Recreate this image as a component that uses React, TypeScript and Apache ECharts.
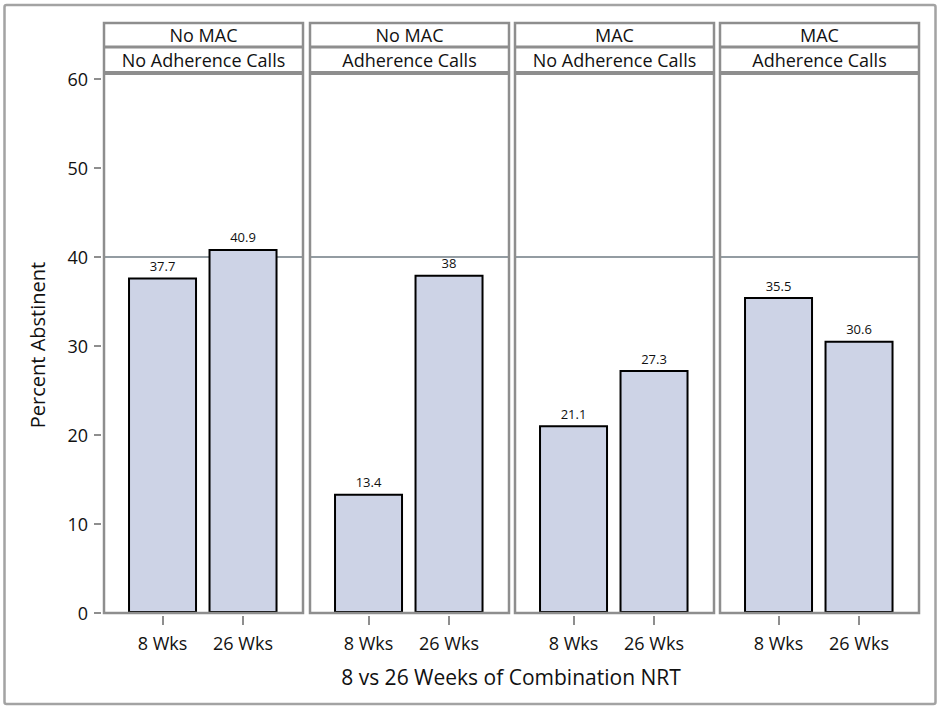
import React, { useEffect, useRef } from "react";
import * as echarts from "echarts";

// ---- data ----
const panelRow1 = ["No MAC", "No MAC", "MAC", "MAC"];
const panelRow2 = ["No Adherence Calls", "Adherence Calls", "No Adherence Calls", "Adherence Calls"];
const durations = ["8 Wks", "26 Wks"];
const pct8Wks = [37.7, 13.4, 21.1, 35.5];
const pct26Wks = [40.9, 38, 27.3, 30.6];
const yTickValues = [0, 10, 20, 30, 40, 50, 60];
const referenceValue = 40;
const xTitle = "8 vs 26 Weeks of Combination NRT";
const yTitle = "Percent Abstinent";

// ---- layout / style ----
const W = 942;
const H = 710;
const FONT = "'Open Sans', 'Noto Sans', sans-serif";
const panelLefts = [104, 310, 515, 720];
const panelW = 199;
const headerTop = 23;
const row1Bottom = 47;
const row2Bottom = 73;
const plotTop = 79; // y of 60
const plotBottom = 613; // y of 0
const panelBorder = "#8E8E8E";
const barFill = "#CDD3E6";
const refColor = "#939CA2";
const textColor = "#111";

export default function App() {
  const ref = useRef<HTMLDivElement>(null);

  useEffect(() => {
    if (!ref.current) return;
    const chart = echarts.init(ref.current, undefined, { renderer: "svg" });

    const grids: any[] = [];
    const xAxes: any[] = [];
    const yAxes: any[] = [];
    const series: any[] = [];
    const graphics: any[] = [];

    panelLefts.forEach((left, i) => {
      grids.push({
        left,
        top: plotTop,
        width: panelW,
        height: plotBottom - plotTop,
        containLabel: false,
      });
      xAxes.push({
        type: "value",
        gridIndex: i,
        min: -0.727,
        max: 1.745,
        offset: 3,
        axisLine: { show: false, onZero: false },
        splitLine: { show: false },
        axisTick: {
          show: true,
          length: 9,
          customValues: [0, 1],
          lineStyle: { color: panelBorder, width: 2 },
        },
        axisLabel: {
          customValues: [0, 1],
          formatter: (v: number) => durations[Math.round(v)] ?? "",
          fontFamily: FONT,
          fontSize: 18,
          color: textColor,
          margin: 18,
        },
      });
      yAxes.push({
        type: "value",
        gridIndex: i,
        min: 0,
        max: 60,
        interval: 10,
        show: i === 0,
        offset: 3,
        axisLine: { show: false, onZero: false },
        splitLine: { show: false },
        axisTick: {
          show: true,
          length: 7,
          lineStyle: { color: panelBorder, width: 2 },
        },
        axisLabel: {
          show: true,
          fontFamily: FONT,
          fontSize: 18,
          color: textColor,
          margin: 13,
          formatter: (v: number) => (yTickValues.includes(v) ? String(v) : ""),
        },
      });
      series.push({
        type: "bar",
        xAxisIndex: i,
        yAxisIndex: i,
        barWidth: 69,
        z: 3,
        data: [
          [0, pct8Wks[i]],
          [1, pct26Wks[i]],
        ],
        itemStyle: { color: barFill, borderColor: "#000", borderWidth: 2 },
        label: {
          show: true,
          position: "top",
          distance: 5,
          fontFamily: FONT,
          fontSize: 13,
          color: textColor,
          formatter: (p: any) => String(p.value[1]),
        },
        markLine: {
          silent: true,
          z: 1,
          symbol: "none",
          label: { show: false },
          lineStyle: { color: refColor, width: 2, type: "solid" },
          data: [{ yAxis: referenceValue }],
        },
      });

      // panel frame and header strips
      graphics.push({
        type: "rect",
        z: 100,
        shape: { x: left, y: headerTop, width: panelW, height: plotBottom - headerTop },
        style: { fill: "none", stroke: panelBorder, lineWidth: 2.5 },
      });
      graphics.push({
        type: "line",
        z: 100,
        shape: { x1: left, y1: row1Bottom, x2: left + panelW, y2: row1Bottom },
        style: { stroke: panelBorder, lineWidth: 3 },
      });
      graphics.push({
        type: "line",
        z: 100,
        shape: { x1: left, y1: row2Bottom, x2: left + panelW, y2: row2Bottom },
        style: { stroke: panelBorder, lineWidth: 4 },
      });
      graphics.push({
        type: "text",
        z: 100,
        x: left + panelW / 2,
        y: (headerTop + row1Bottom) / 2,
        style: {
          text: panelRow1[i],
          align: "center",
          verticalAlign: "middle",
          font: `18px ${FONT}`,
          fill: textColor,
        },
      });
      graphics.push({
        type: "text",
        z: 100,
        x: left + panelW / 2,
        y: (row1Bottom + row2Bottom) / 2,
        style: {
          text: panelRow2[i],
          align: "center",
          verticalAlign: "middle",
          font: `18px ${FONT}`,
          fill: textColor,
        },
      });
    });

    // outer frame
    graphics.push({
      type: "rect",
      z: 100,
      shape: { x: 4.5, y: 5, width: 931, height: 699, r: 2 },
      style: { fill: "none", stroke: "#A3A3A3", lineWidth: 2.5 },
    });
    // axis titles
    graphics.push({
      type: "text",
      z: 100,
      x: 511,
      y: 677,
      style: {
        text: xTitle,
        align: "center",
        verticalAlign: "middle",
        font: `21px ${FONT}`,
        fill: textColor,
      },
    });
    graphics.push({
      type: "text",
      z: 100,
      x: 37,
      y: 345,
      rotation: Math.PI / 2,
      style: {
        text: yTitle,
        align: "center",
        verticalAlign: "middle",
        font: `20px ${FONT}`,
        fill: textColor,
      },
    });

    chart.setOption({
      animation: false,
      backgroundColor: "#fff",
      grid: grids,
      xAxis: xAxes,
      yAxis: yAxes,
      series,
      graphic: graphics,
    });

    return () => chart.dispose();
  }, []);

  return (
    <div
      ref={ref}
      style={{ position: "absolute", left: 0, top: 0, width: W, height: H }}
    />
  );
}
